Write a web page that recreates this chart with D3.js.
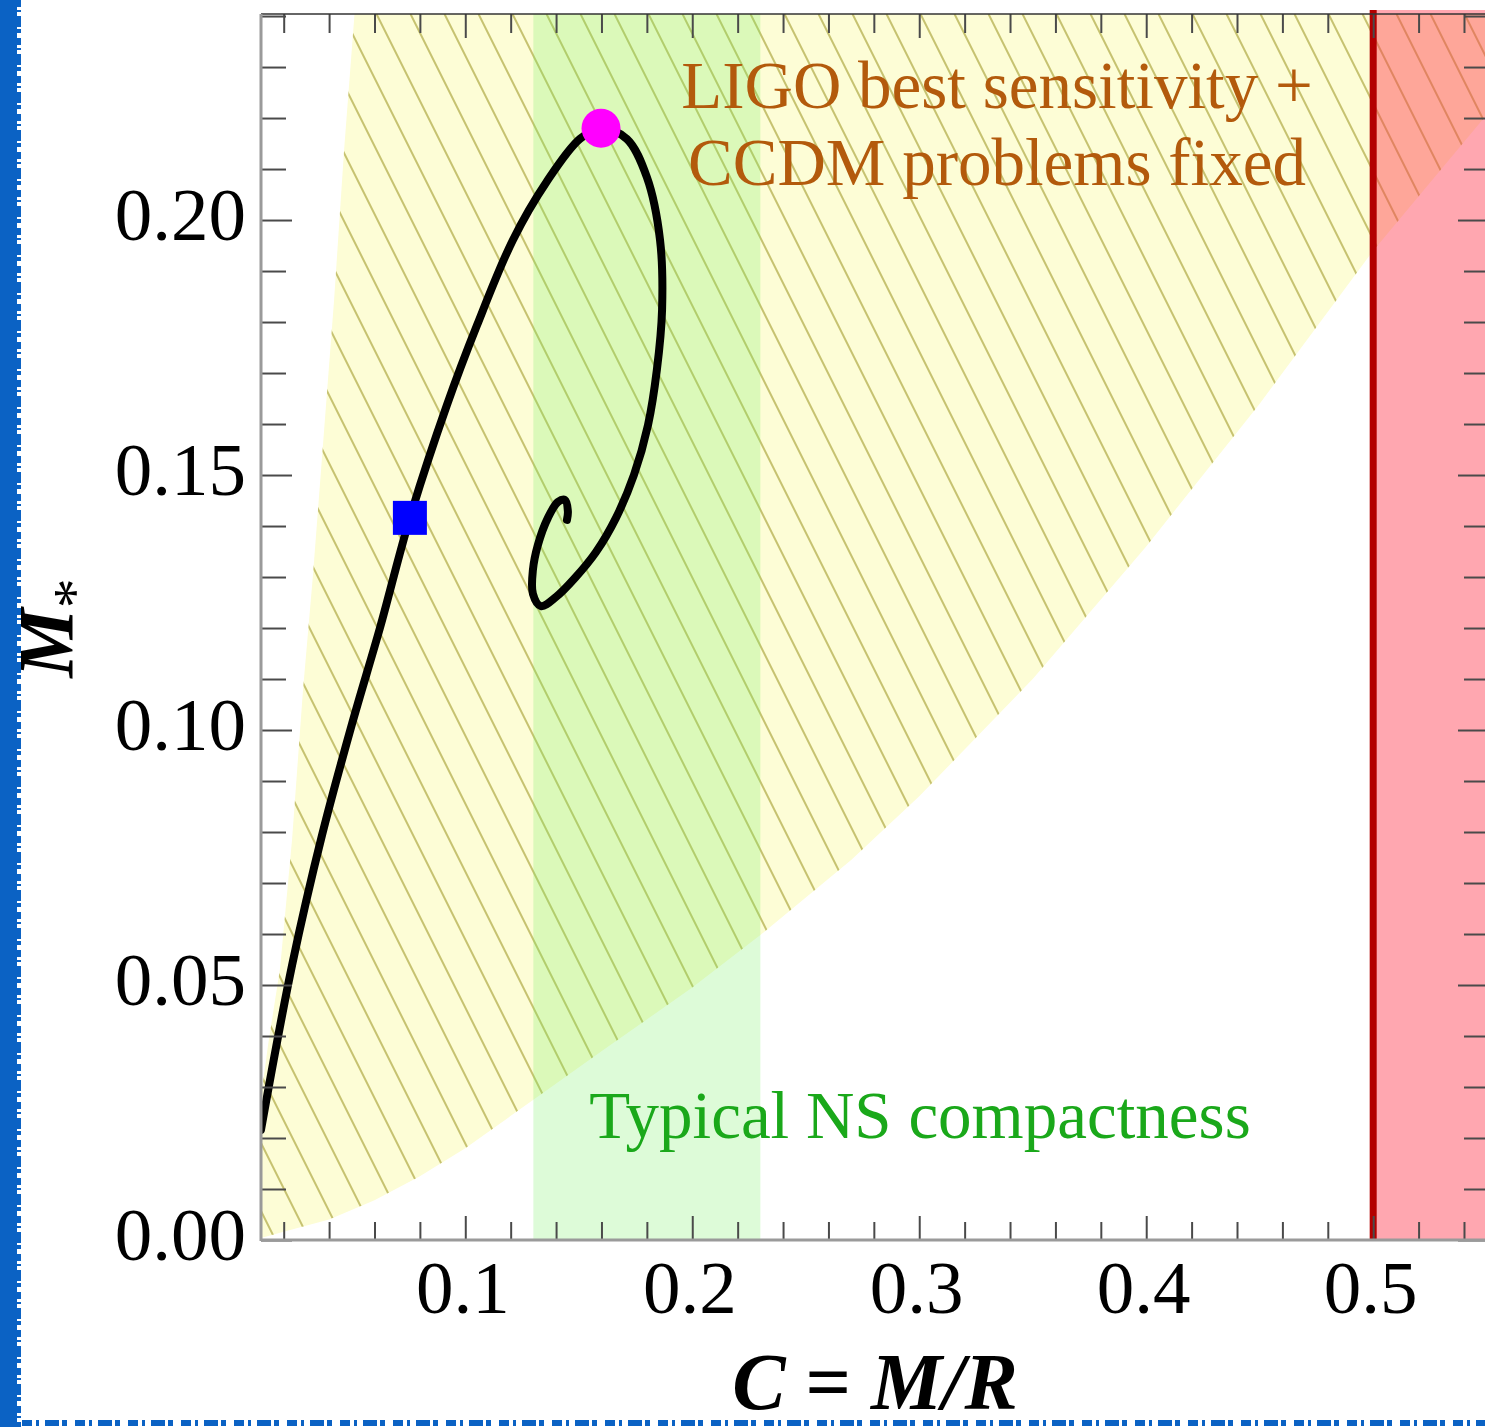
<!DOCTYPE html>
<html>
<head>
<meta charset="utf-8">
<script src="https://cdn.jsdelivr.net/npm/d3@7"></script>
<style>
  html, body { margin: 0; padding: 0; background: #fff; }
  svg { display: block; }
</style>
</head>
<body>
<svg id="chart" width="1485" height="1427"></svg>
<script>
// Compactness C = M/R versus stellar mass M_* along the sequence of configurations
const curveC = [0.0100, 0.0237, 0.0369, 0.0501, 0.0624, 0.0756, 0.0919, 0.1052, 0.1210, 0.1360,
                0.1505, 0.1598, 0.1712, 0.1800, 0.1858, 0.1867, 0.1844, 0.1805, 0.1743, 0.1664,
                0.1576, 0.1483, 0.1400, 0.1333, 0.1298, 0.1298, 0.1320, 0.1364, 0.1408, 0.1439,
                0.1452, 0.1448];
const curveM = [0.0216, 0.0539, 0.0794, 0.1012, 0.1200, 0.1416, 0.1637, 0.1794, 0.1961, 0.2076,
                0.2159, 0.2180, 0.2159, 0.2084, 0.1961, 0.1824, 0.1706, 0.1598, 0.1500, 0.1416,
                0.1349, 0.1298, 0.1261, 0.1243, 0.1267, 0.1314, 0.1363, 0.1416, 0.1447, 0.1451,
                0.1429, 0.1412];

// Highlighted configurations on the sequence
const stableC = 0.0756, stableM = 0.1416;   // blue square
const maxC = 0.1598, maxM = 0.2180;         // magenta circle (maximum mass)

// Allowed region: left edge and lower edge of the hatched band
const leftEdgeC = [0.0512, 0.0466, 0.0422, 0.0329, 0.0285, 0.0237, 0.0184, 0.0131, 0.0100];
const leftEdgeM = [0.2404, 0.2137, 0.1843, 0.1304, 0.1078, 0.0786, 0.0533, 0.0382, 0.0280];
const lowEdgeC = [0.0100, 0.0200, 0.0400, 0.0600, 0.0800, 0.1000, 0.1300, 0.1600, 0.2000, 0.2300,
                  0.2700, 0.3000, 0.3500, 0.4000, 0.4500, 0.5000, 0.5497];
const lowEdgeM = [0.0004, 0.0016, 0.0040, 0.0078, 0.0125, 0.0180, 0.0275, 0.0370, 0.0495, 0.0598,
                  0.0745, 0.0870, 0.1100, 0.1360, 0.1640, 0.1940, 0.2205];

// Typical neutron-star compactness band and the causality bound
const nsBand = [0.13, 0.23];
const causalLimit = 0.5;

// Axis ticks
const xMajor = [0.1, 0.2, 0.3, 0.4, 0.5];
const xMinor = [0.02, 0.04, 0.06, 0.08, 0.12, 0.14, 0.16, 0.18, 0.22, 0.24, 0.26, 0.28,
                0.32, 0.34, 0.36, 0.38, 0.42, 0.44, 0.46, 0.48, 0.52, 0.54];
const yMajor = [0.00, 0.05, 0.10, 0.15, 0.20];
const yMinor = [0.01, 0.02, 0.03, 0.04, 0.06, 0.07, 0.08, 0.09, 0.11, 0.12, 0.13, 0.14,
                0.16, 0.17, 0.18, 0.19, 0.21, 0.22, 0.23, 0.24];

const regionLabel = ["LIGO best sensitivity +", "CCDM problems fixed"];
const bandLabel = "Typical NS compactness";

const L = 261, R = 1486, T = 14, B = 1240;
const x = d3.scaleLinear().domain([0.01, 0.5497]).range([L, R]);
const y = d3.scaleLinear().domain([0, 0.2404]).range([B, T]);

const svg = d3.select("#chart");
const defs = svg.append("defs");
const serif = "'Liberation Serif', 'Times New Roman', serif";

defs.append("clipPath").attr("id", "plotClip")
  .append("rect").attr("x", L).attr("y", T).attr("width", R - L).attr("height", B - T);

// Hatched allowed region
const regionPts = [];
leftEdgeC.forEach((c, i) => regionPts.push([c, leftEdgeM[i]]));
lowEdgeC.forEach((c, i) => regionPts.push([c, lowEdgeM[i]]));
regionPts.push([0.5497, 0.2404]);
const outline = d3.line().x(d => x(d[0])).y(d => y(d[1]));
const regionPath = outline(regionPts) + "Z";

defs.append("clipPath").attr("id", "regionClip")
  .append("path").attr("d", regionPath);

const plot = svg.append("g").attr("clip-path", "url(#plotClip)");
plot.append("path").attr("d", regionPath).attr("fill", "#fdfdd6");

// Diagonal hatch: parallel strokes, 34 px apart horizontally, dropping 2 px per px
const hatchStep = 34, hatchSlope = 2, hatchX0 = 353, hatchY0 = 35;
const hatchIdx = d3.range(-22, 36);
plot.append("g").attr("clip-path", "url(#regionClip)")
  .selectAll("line").data(hatchIdx).join("line")
  .attr("x1", k => hatchX0 + k * hatchStep + (T - hatchY0) / hatchSlope)
  .attr("y1", T)
  .attr("x2", k => hatchX0 + k * hatchStep + (B - hatchY0) / hatchSlope)
  .attr("y2", B)
  .attr("stroke", "#c6c270").attr("stroke-width", 2);

// Neutron-star compactness band
plot.append("rect")
  .attr("x", x(nsBand[0])).attr("y", T)
  .attr("width", x(nsBand[1]) - x(nsBand[0])).attr("height", B - T)
  .attr("fill", "rgb(120,240,100)").attr("fill-opacity", 0.25);

// Region beyond the causality bound
plot.append("rect")
  .attr("x", x(causalLimit)).attr("y", T)
  .attr("width", R - x(causalLimit)).attr("height", B - T)
  .attr("fill", "rgb(255,60,80)").attr("fill-opacity", 0.45);
svg.append("rect")
  .attr("x", x(causalLimit)).attr("y", T - 4)
  .attr("width", R - x(causalLimit)).attr("height", 4)
  .attr("fill", "rgb(255,60,80)").attr("fill-opacity", 0.45);
svg.append("line")
  .attr("x1", x(causalLimit)).attr("x2", x(causalLimit))
  .attr("y1", T - 4).attr("y2", B)
  .attr("stroke", "#b30000").attr("stroke-width", 7);

// Region labels
svg.append("g").selectAll("text").data(regionLabel).join("text")
  .attr("x", 997).attr("y", (d, i) => 108 + i * 77)
  .attr("text-anchor", "middle")
  .attr("font-family", serif)
  .attr("font-size", 67).attr("fill", "#b35a0c")
  .text(d => d);
svg.append("text")
  .attr("x", 920).attr("y", 1138)
  .attr("text-anchor", "middle")
  .attr("font-family", serif)
  .attr("font-size", 67).attr("fill", "#1aa81a")
  .text(bandLabel);

// Sequence curve
const seq = curveC.map((c, i) => [c, curveM[i]]);
const line = d3.line().x(d => x(d[0])).y(d => y(d[1])).curve(d3.curveCatmullRom.alpha(0.5));
plot.append("path").attr("d", line(seq))
  .attr("fill", "none").attr("stroke", "#000").attr("stroke-width", 8)
  .attr("stroke-linejoin", "round").attr("stroke-linecap", "round");

// Markers
svg.append("rect")
  .attr("x", x(stableC) - 17).attr("y", y(stableM) - 17)
  .attr("width", 34).attr("height", 34).attr("fill", "#0000ff");
svg.append("circle")
  .attr("cx", x(maxC)).attr("cy", y(maxM)).attr("r", 19.5).attr("fill", "#ff00ff");

// Axes
function styleAxis(g) {
  g.select(".domain").remove();
  g.selectAll("line").attr("stroke", "#4a4a4a").attr("stroke-width", 2);
}
// bottom
svg.append("g").attr("transform", `translate(0,${B})`)
  .call(d3.axisBottom(x).tickValues(xMinor).tickSize(-18).tickFormat(""))
  .call(styleAxis);
svg.append("g").attr("transform", `translate(0,${B})`)
  .call(d3.axisBottom(x).tickValues(xMajor).tickSize(-24).tickPadding(20).tickFormat(d3.format(".1f")))
  .call(styleAxis)
  .call(g => g.selectAll("text").attr("font-family", serif).attr("font-size", 75)
    .attr("fill", "#000").attr("dx", -3));
// top
svg.append("g").attr("transform", `translate(0,${T})`)
  .call(d3.axisTop(x).tickValues(xMinor).tickSize(-19).tickFormat(""))
  .call(styleAxis);
svg.append("g").attr("transform", `translate(0,${T})`)
  .call(d3.axisTop(x).tickValues(xMajor).tickSize(-24).tickFormat(""))
  .call(styleAxis);
// left
svg.append("g").attr("transform", `translate(${L},0)`)
  .call(d3.axisLeft(y).tickValues(yMinor).tickSize(-25).tickFormat(""))
  .call(styleAxis);
svg.append("g").attr("transform", `translate(${L},0)`)
  .call(d3.axisLeft(y).tickValues(yMajor).tickSize(-31).tickPadding(15).tickFormat(d3.format(".2f")))
  .call(styleAxis)
  .call(g => g.selectAll("text").attr("font-family", serif).attr("font-size", 75)
    .attr("fill", "#000").attr("dy", "0.26em"));
// right
svg.append("g").attr("transform", `translate(${R},0)`)
  .call(d3.axisRight(y).tickValues(yMinor).tickSize(-22).tickFormat(""))
  .call(styleAxis);
svg.append("g").attr("transform", `translate(${R},0)`)
  .call(d3.axisRight(y).tickValues(yMajor).tickSize(-28).tickFormat(""))
  .call(styleAxis);

// Frame
svg.append("line").attr("x1", L).attr("x2", R).attr("y1", T).attr("y2", T)
  .attr("stroke", "#333").attr("stroke-width", 1.5);
svg.append("line").attr("x1", L).attr("x2", L).attr("y1", T).attr("y2", B + 1)
  .attr("stroke", "#9a9a9a").attr("stroke-width", 3);
svg.append("line").attr("x1", L).attr("x2", R).attr("y1", B).attr("y2", B)
  .attr("stroke", "#9a9a9a").attr("stroke-width", 3);

// Axis titles
const xTitle = svg.append("text")
  .attr("x", 875).attr("y", 1409).attr("text-anchor", "middle")
  .attr("font-family", serif).attr("font-size", 80)
  .attr("font-weight", "bold").attr("font-style", "italic");
xTitle.append("tspan").text("C");
xTitle.append("tspan").attr("font-style", "normal").text(" = ");
xTitle.append("tspan").text("M/R");

const yTitle = svg.append("text")
  .attr("transform", "translate(72,628) rotate(-90)")
  .attr("text-anchor", "middle")
  .attr("font-family", serif);
yTitle.append("tspan").attr("font-size", 78).attr("font-weight", "bold").attr("font-style", "italic").text("M");
yTitle.append("tspan").attr("font-size", 60).attr("dy", 22).text("*");

// Blue page edge
svg.append("rect").attr("x", 0).attr("y", 0).attr("width", 17).attr("height", 1427).attr("fill", "#0b62c4");
svg.append("line").attr("x1", 19).attr("x2", 19).attr("y1", 0).attr("y2", 1427)
  .attr("stroke", "#0b62c4").attr("stroke-width", 4).attr("stroke-dasharray", "7 3 2 4 11 2 4 5");
svg.append("line").attr("x1", 22).attr("x2", 1485).attr("y1", 1423).attr("y2", 1423)
  .attr("stroke", "#0b62c4").attr("stroke-width", 6).attr("stroke-dasharray", "10 4 3 6 14 3 5 8");
</script>
</body>
</html>
